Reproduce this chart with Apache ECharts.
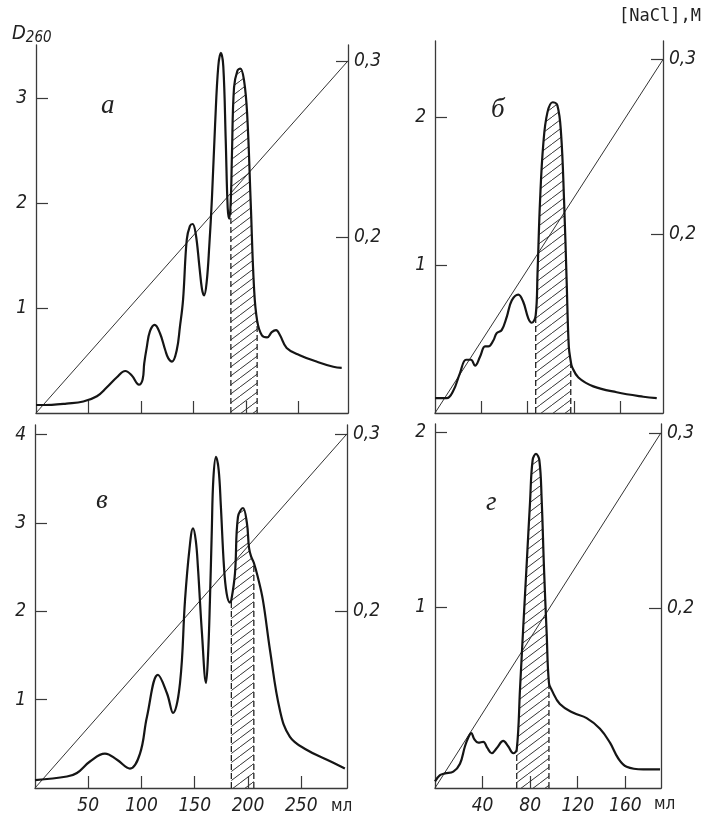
<!DOCTYPE html>
<html>
<head>
<meta charset="utf-8">
<script src="https://cdn.jsdelivr.net/npm/echarts@6/dist/echarts.min.js"></script>
<style>
html, body { margin: 0; padding: 0; background: #fff; }
#chart { width: 707px; height: 816px; }
</style>
</head>
<body>
<div id="chart"></div>
<script>
// ---- data ----
// panel а : elution volume (ml) and D260
var mlA = [0, 15, 29, 45, 58, 67, 77, 85, 91, 98, 101.5, 103, 105.5, 108.5, 113, 118, 123, 126, 129.5, 134, 137, 140,
	143.5, 146.5, 149, 152, 155.5, 158, 160, 162.5, 165, 167.5, 170.5, 173.5, 176, 178.3, 180.6, 182.5, 184, 185.5,
	186.5, 188.5, 191.7, 194.5, 198, 201, 204.4, 207.5, 210.5, 215, 220, 224.4, 228.5, 232.3, 238.6, 251, 267, 283, 291];
var dA = [0.076, 0.078, 0.09, 0.11, 0.16, 0.24, 0.34, 0.40, 0.36, 0.27, 0.32, 0.47, 0.63, 0.78, 0.84, 0.76, 0.6, 0.52, 0.49, 0.6, 0.82, 1.08,
	1.65, 1.78, 1.80, 1.71, 1.40, 1.18, 1.12, 1.25, 1.6, 2.05, 2.75, 3.3, 3.43, 3.3, 2.6, 1.95, 1.85, 2.05,
	2.45, 3.1, 3.26, 3.28, 3.17, 2.85, 2.0, 1.2, 0.88, 0.74, 0.72, 0.77, 0.79, 0.74, 0.62, 0.55, 0.49, 0.44, 0.43];
var hatchA = [185.5, 210.5];
var naclA = [0.1, 0.3];

// panel б
var mlB = [0, 10, 15.8, 21.6, 26.8, 31.1, 34.6, 38.9, 43.2, 46.1, 50.4, 53.3, 57.6, 62, 66.3, 72, 76.3, 80.6, 83.6, 87,
	88.6, 90.8, 93.6, 97.1, 101.7, 105.7, 108.9, 111.5, 113.8, 115.6, 117.3, 118.5, 123.9, 136.8, 157, 180, 191.6];
var dB = [0.10, 0.10, 0.15, 0.27, 0.36, 0.36, 0.32, 0.38, 0.45, 0.45, 0.49, 0.54, 0.56, 0.65, 0.76, 0.80, 0.75, 0.64, 0.61, 0.66,
	0.95, 1.44, 1.82, 2.03, 2.10, 2.08, 1.89, 1.44, 0.88, 0.45, 0.35, 0.31, 0.24, 0.18, 0.14, 0.11, 0.10];
var hatchB = [87, 117.3];
var naclB = [0.098, 0.3];

// panel в
var mlV = [0, 30, 39.4, 51.6, 65.7, 77, 89.2, 98.6, 105.2, 115.5, 124, 129.6, 136.2, 140.9, 145, 148.4, 151, 153, 156.8,
	160.6, 162.5, 164.3, 166, 167.5, 170, 172.5, 174.5, 177.5, 180, 183, 184.4, 187.8, 190.6, 195.3, 199, 201, 203, 205.5,
	209, 214, 220.7, 230, 239.4, 255.4, 274.2, 291];
var dV = [0.09, 0.13, 0.17, 0.30, 0.39, 0.32, 0.22, 0.39, 0.81, 1.28, 1.07, 0.85, 1.19, 2.13, 2.7, 2.94, 2.8, 2.5, 1.75,
	1.19, 1.5, 2.13, 2.9, 3.5, 3.75, 3.6, 3.2, 2.5, 2.2, 2.1, 2.13, 2.43, 3.07, 3.17, 3.0, 2.72, 2.62, 2.55,
	2.4, 2.13, 1.56, 0.88, 0.58, 0.43, 0.32, 0.22];
var hatchV = [184.4, 205.5];
var naclV = [0.1, 0.3];

// panel г
var mlG = [0, 4.2, 8.4, 15.4, 21, 25.2, 28, 30.5, 33, 36.4, 40.6, 44, 47.7, 52, 57.4, 61.5, 65.8, 68.7, 71.5, 74.2,
	77.1, 79.9, 82.1, 84.9, 87.7, 89.7, 91.6, 93.9, 95.8, 98.1, 105, 116.3, 127.5, 138.7, 147.1, 154.1, 161.1, 175.1, 189.2];
var dG = [0.01, 0.045, 0.055, 0.065, 0.11, 0.21, 0.26, 0.285, 0.25, 0.23, 0.235, 0.2, 0.17, 0.2, 0.24, 0.21, 0.17, 0.19, 0.54, 0.89,
	1.25, 1.60, 1.84, 1.875, 1.84, 1.61, 1.23, 0.85, 0.57, 0.53, 0.45, 0.40, 0.37, 0.31, 0.23, 0.14, 0.093, 0.078, 0.078];
var hatchG = [68.7, 95.8];
var naclG = [0.097, 0.3];

// tick labels
var ticksMlLong = [50, 100, 150, 200, 250];
var ticksMlShort = [40, 80, 120, 160];
var ticksDA = [1, 2, 3];
var ticksDB = [1, 2];
var ticksDV = [1, 2, 3, 4];
var ticksDG = [1, 2];
var ticksNacl = [0.2, 0.3];

// ---- drawing ----
var FONT = "'Liberation Sans Narrow','DejaVu Sans Condensed',sans-serif";
var INK = '#222';
var AXIS = '#3a3a3a';

function hatchPattern() {
	var c = document.createElement('canvas');
	c.width = 12;
	c.height = 9;
	var ctx = c.getContext('2d');
	ctx.strokeStyle = '#333';
	ctx.lineWidth = 1;
	ctx.beginPath();
	ctx.moveTo(-12, 9); ctx.lineTo(0, 0);
	ctx.moveTo(0, 9); ctx.lineTo(12, 0);
	ctx.moveTo(12, 9); ctx.lineTo(24, 0);
	ctx.stroke();
	return c;
}
var pattern = hatchPattern();

function valueAt(xs, ys, x) {
	for (var i = 1; i < xs.length; i++) {
		if (x <= xs[i]) {
			var t = (x - xs[i - 1]) / (xs[i] - xs[i - 1]);
			return ys[i - 1] + t * (ys[i] - ys[i - 1]);
		}
	}
	return ys[ys.length - 1];
}

var panels = [
	{ ml: mlA, d: dA, hatch: hatchA, nacl: naclA, tx: ticksMlLong, td: ticksDA, showX: false,
		box: { left: 36, top: 45, width: 312, height: 368 }, xMax: 297, dMin: 0, dMax: 3.505, nMax: 0.309 },
	{ ml: mlB, d: dB, hatch: hatchB, nacl: naclB, tx: ticksMlShort, td: ticksDB, showX: false,
		box: { left: 435, top: 41, width: 228, height: 372 }, xMax: 197, dMin: 0, dMax: 2.514, nMax: 0.3106 },
	{ ml: mlV, d: dV, hatch: hatchV, nacl: naclV, tx: ticksMlLong, td: ticksDV, showX: true,
		box: { left: 35, top: 425, width: 312, height: 363 }, xMax: 293, dMin: 0, dMax: 4.11, nMax: 0.305 },
	{ ml: mlG, d: dG, hatch: hatchG, nacl: naclG, tx: ticksMlShort, td: ticksDG, showX: true,
		box: { left: 435, top: 424, width: 226, height: 364 }, xMax: 190, dMin: -0.028, dMax: 2.045, nMax: 0.305 }
];

var grids = [], xAxes = [], yAxes = [], series = [];
var axisLine = { show: true, onZero: false, lineStyle: { color: AXIS, width: 1.3 } };
var tickStyle = { color: AXIS, width: 1.2 };
var labelBase = { fontFamily: FONT, fontStyle: 'italic', fontSize: 19, color: INK };

panels.forEach(function (p, i) {
	grids.push(p.box);
	xAxes.push({
		type: 'value', gridIndex: i, min: 0, max: p.xMax,
		axisLine: axisLine,
		axisTick: { inside: true, length: 12, customValues: p.tx, lineStyle: tickStyle },
		axisLabel: Object.assign({ show: p.showX, customValues: p.tx, margin: 9 }, labelBase),
		splitLine: { show: false }
	});
	yAxes.push({
		type: 'value', gridIndex: i, position: 'left', min: p.dMin, max: p.dMax,
		axisLine: axisLine,
		axisTick: { inside: true, length: 12, customValues: p.td, lineStyle: tickStyle },
		axisLabel: Object.assign({ customValues: p.td, margin: 9 }, labelBase),
		splitLine: { show: false }
	});
	yAxes.push({
		type: 'value', gridIndex: i, position: 'right', min: p.nacl[0], max: p.nMax,
		axisLine: axisLine,
		axisTick: { inside: true, length: 12, customValues: ticksNacl, lineStyle: tickStyle },
		axisLabel: Object.assign({
			customValues: ticksNacl, margin: 6,
			formatter: function (v) { return v.toFixed(1).replace('.', ','); }
		}, labelBase),
		splitLine: { show: false }
	});

	var x0 = p.hatch[0], x1 = p.hatch[1];
	var hatched = [];
	p.ml.forEach(function (x, k) {
		if (x >= x0 && x <= x1) hatched.push([x, p.d[k]]);
	});
	series.push({
		type: 'line', xAxisIndex: i, yAxisIndex: 2 * i, data: hatched,
		smooth: 0.4, symbol: 'none', silent: true, z: 1,
		lineStyle: { width: 0 },
		areaStyle: { origin: 'start', color: { image: pattern, repeat: 'repeat' }, opacity: 1 }
	});
	[x0, x1].forEach(function (xe) {
		series.push({
			type: 'line', xAxisIndex: i, yAxisIndex: 2 * i, symbol: 'none', silent: true, z: 2,
			data: [[xe, p.dMin], [xe, valueAt(p.ml, p.d, xe)]],
			lineStyle: { color: INK, width: 1.3, type: [6, 3] }
		});
	});
	series.push({
		type: 'line', xAxisIndex: i, yAxisIndex: 2 * i + 1, symbol: 'none', silent: true, z: 3,
		data: [[0, p.nacl[0]], [p.xMax, p.nacl[1]]],
		lineStyle: { color: '#333', width: 1 }
	});
	series.push({
		type: 'line', xAxisIndex: i, yAxisIndex: 2 * i, symbol: 'none', silent: true, z: 4,
		data: p.ml.map(function (x, k) { return [x, p.d[k]]; }),
		smooth: 0.4,
		lineStyle: { color: '#151515', width: 2.2 }
	});
});

function note(text, left, top, style) {
	return { text: text, left: left, top: top, padding: 0, textStyle: style };
}
var letterStyle = { fontFamily: "'Liberation Serif','DejaVu Serif',serif", fontStyle: 'italic', fontWeight: 'normal', fontSize: 27, color: INK };
var unitStyle = { fontFamily: "'DejaVu Sans Condensed','DejaVu Sans',sans-serif", fontWeight: 'normal', fontSize: 17, color: INK };

var titles = [
	note('{d|D}{s|260}', 12, 21, { fontWeight: 'normal', rich: {
		d: { fontFamily: FONT, fontStyle: 'italic', fontWeight: 'normal', fontSize: 20, color: INK },
		s: { fontFamily: FONT, fontStyle: 'italic', fontWeight: 'normal', fontSize: 15, color: INK, padding: [10, 0, 0, 0] }
	} }),
	note('[NaCl],M', 619, 8, { fontFamily: "'DejaVu Sans Mono',monospace", fontWeight: 'normal', fontSize: 17, color: INK }),
	note('а', 101, 92, letterStyle),
	note('б', 491, 96, letterStyle),
	note('в', 96, 487, letterStyle),
	note('г', 486, 489, letterStyle),
	note('мл', 331, 798, unitStyle),
	note('мл', 654, 796, unitStyle)
];

var chart = echarts.init(document.getElementById('chart'), null, { renderer: 'canvas' });
chart.setOption({
	backgroundColor: '#fff',
	animation: false,
	title: titles,
	grid: grids,
	xAxis: xAxes,
	yAxis: yAxes,
	series: series
});
</script>
</body>
</html>
